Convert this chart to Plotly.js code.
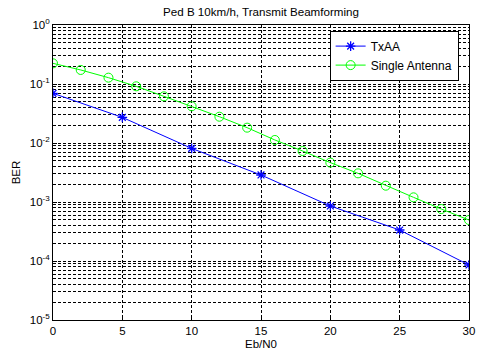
<!DOCTYPE html>
<html>
<head>
<meta charset="utf-8">
<script src="https://cdn.plot.ly/plotly-3.0.1.min.js"></script>
<style>html,body{margin:0;padding:0;background:#fff;}#chart{width:477px;height:354px;}</style>
</head>
<body>
<div id="chart"></div>
<script>
var txaaX = [0, 5, 10, 15, 20, 25, 30];
var txaaBER = [0.0695, 0.0272, 0.0081, 0.00287, 0.000855, 0.000335, 0.0000855];
var singleX = [0, 2, 4, 6, 8, 10, 12, 14, 16, 18, 20, 22, 24, 26, 28, 30];
var singleBER = [0.224, 0.173, 0.128, 0.0914, 0.0618, 0.0419, 0.0279, 0.0182, 0.01125, 0.00732, 0.00465, 0.00306, 0.00189, 0.0012, 0.00076, 0.000495];
var xTicks = [0, 5, 10, 15, 20, 25, 30];
var yTickVals = [1e-5, 1e-4, 1e-3, 1e-2, 1e-1, 1];
var yTickText = ['10<sup>-5</sup>', '10<sup>-4</sup>', '10<sup>-3</sup>', '10<sup>-2</sup>', '10<sup>-1</sup>', '10<sup>0</sup>'];

var fam = 'Liberation Sans, Arial, sans-serif';
var gridDash = '3px,2px';

var traces = [
  {x: txaaX, y: txaaBER, name: 'TxAA', type: 'scatter', mode: 'lines+markers',
   line: {color: '#0000ff', width: 1},
   marker: {symbol: 'asterisk-open', size: 8, color: '#0000ff', line: {color: '#0000ff', width: 1.3}}},
  {x: singleX, y: singleBER, name: 'Single Antenna', type: 'scatter', mode: 'lines+markers',
   line: {color: '#00ff00', width: 1},
   marker: {symbol: 'circle-open', size: 9, color: '#00ff00', line: {color: '#00ff00', width: 1}}}
];

var layout = {
  width: 477, height: 354,
  margin: {l: 53, r: 8, t: 25, b: 34},
  paper_bgcolor: '#fff', plot_bgcolor: '#fff',
  font: {family: fam, size: 11, color: '#000'},
  title: {text: 'Ped B 10km/h, Transmit Beamforming', font: {family: fam, size: 11.6, color: '#000'},
          x: 0.5, xref: 'paper', y: 1 - 12/354, yref: 'container', yanchor: 'middle'},
  xaxis: {range: [0, 30], tickvals: xTicks, ticktext: xTicks.map(String),
          showgrid: true, gridcolor: '#000', griddash: gridDash, gridwidth: 1,
          showline: true, linecolor: '#000', linewidth: 1, mirror: true,
          ticks: 'inside', ticklen: 4, tickcolor: '#000', zeroline: false,
          ticklabeloverflow: 'allow',
          tickfont: {family: fam, size: 11.5, color: '#000'},
          title: {text: 'Eb/N0', font: {family: fam, size: 11.5, color: '#000'}, standoff: 4}},
  yaxis: {type: 'log', range: [-5, 0], tickvals: yTickVals, ticktext: yTickText,
          showgrid: true, gridcolor: '#000', griddash: gridDash, gridwidth: 1,
          minor: {dtick: 'D1', showgrid: true, gridcolor: '#000', griddash: gridDash, gridwidth: 1, ticks: ''},
          showline: true, linecolor: '#000', linewidth: 1, mirror: true,
          ticks: 'inside', ticklen: 4, tickcolor: '#000', zeroline: false,
          tickfont: {family: fam, size: 11.5, color: '#000'},
          title: {text: 'BER', font: {family: fam, size: 11.5, color: '#000'}, standoff: 6}},
  legend: {x: 0.665, y: 0.981, xanchor: 'left', yanchor: 'top', bgcolor: '#fff',
           bordercolor: '#000', borderwidth: 1, font: {family: fam, size: 12, color: '#000'},
           tracegroupgap: 0},
  showlegend: true
};

Plotly.newPlot('chart', traces, layout, {displayModeBar: false, staticPlot: true});
</script>
</body>
</html>
